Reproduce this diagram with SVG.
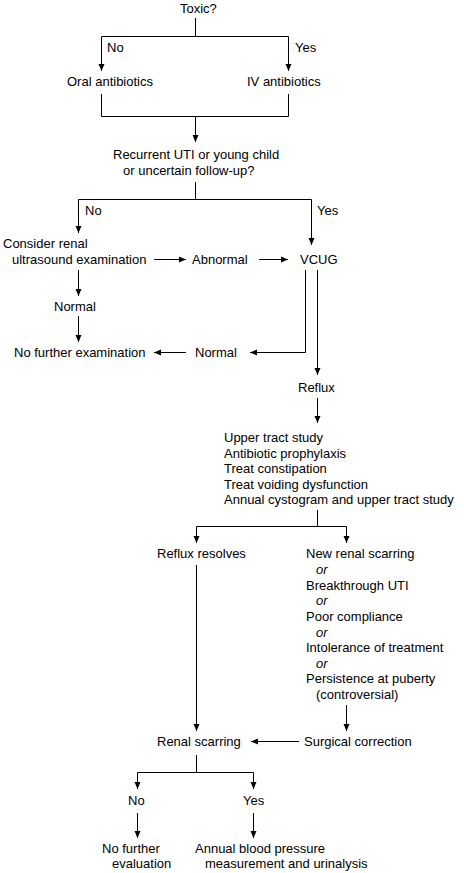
<svg xmlns="http://www.w3.org/2000/svg" width="464" height="873" viewBox="0 0 464 873">
<style>
text{font-family:"Liberation Sans",Arial,sans-serif;font-size:13px;fill:#000}
.it{font-style:italic}
.c line,.c polyline{stroke:#000;stroke-width:1;fill:none;marker-end:url(#ah)}
.c .n{marker-end:none}
</style>
<defs>
<marker id="ah" markerUnits="userSpaceOnUse" markerWidth="8" markerHeight="7" refX="7" refY="3.5" orient="auto">
<path d="M0,0.5 L7,3.5 L0,6.5 Z" fill="#000"/>
</marker>
</defs>
<rect width="464" height="873" fill="#fff"/>
<g class="c" id="connectors">
<line class="n" x1="195.5" y1="18" x2="195.5" y2="36.5"/>
<line class="n" x1="101.5" y1="36.5" x2="288.5" y2="36.5"/>
<line x1="101.5" y1="36.5" x2="101.5" y2="71"/>
<line x1="288.5" y1="36.5" x2="288.5" y2="71"/>
<line class="n" x1="101.5" y1="94" x2="101.5" y2="116.5"/>
<line class="n" x1="288.5" y1="94" x2="288.5" y2="116.5"/>
<line class="n" x1="101.5" y1="116.5" x2="288.5" y2="116.5"/>
<line x1="195.5" y1="116.5" x2="195.5" y2="142"/>
<line class="n" x1="195.5" y1="182" x2="195.5" y2="199.5"/>
<line class="n" x1="78.5" y1="199.5" x2="311.5" y2="199.5"/>
<line x1="78.5" y1="199.5" x2="78.5" y2="233"/>
<line x1="311.5" y1="199.5" x2="311.5" y2="245"/>
<line x1="154" y1="259.5" x2="186" y2="259.5"/>
<line x1="259" y1="259.5" x2="288" y2="259.5"/>
<line x1="78.5" y1="270" x2="78.5" y2="296"/>
<line x1="78.5" y1="316" x2="78.5" y2="342"/>
<line x1="186" y1="352.5" x2="154" y2="352.5"/>
<polyline points="305.5,270 305.5,352.5 250,352.5"/>
<line x1="317.5" y1="270" x2="317.5" y2="375"/>
<line x1="317.5" y1="398" x2="317.5" y2="423"/>
<line class="n" x1="317.5" y1="510" x2="317.5" y2="526.5"/>
<line class="n" x1="196.5" y1="526.5" x2="346.5" y2="526.5"/>
<line x1="196.5" y1="526.5" x2="196.5" y2="543"/>
<line x1="346.5" y1="526.5" x2="346.5" y2="543"/>
<line x1="196.5" y1="565" x2="196.5" y2="731"/>
<line x1="346.5" y1="705" x2="346.5" y2="731"/>
<line x1="299" y1="741.5" x2="251" y2="741.5"/>
<line class="n" x1="196.5" y1="755" x2="196.5" y2="772.5"/>
<line class="n" x1="137.5" y1="772.5" x2="253.5" y2="772.5"/>
<line x1="137.5" y1="772.5" x2="137.5" y2="789"/>
<line x1="253.5" y1="772.5" x2="253.5" y2="789"/>
<line x1="137.5" y1="813" x2="137.5" y2="838"/>
<line x1="253.5" y1="813" x2="253.5" y2="838"/>
</g>
<g id="toxic"><text x="180" y="13">Toxic?</text></g>
<g id="lbl-no1"><text x="107" y="52">No</text></g>
<g id="lbl-yes1"><text x="295" y="52">Yes</text></g>
<g id="oral"><text x="67" y="86">Oral antibiotics</text></g>
<g id="iv"><text x="247" y="86">IV antibiotics</text></g>
<g id="recurrent"><text x="113" y="159">Recurrent UTI or young child</text><text x="123" y="175">or uncertain follow-up?</text></g>
<g id="lbl-no2"><text x="85" y="215">No</text></g>
<g id="lbl-yes2"><text x="317" y="215">Yes</text></g>
<g id="ultrasound"><text x="3" y="248">Consider renal</text><text x="12" y="264">ultrasound examination</text></g>
<g id="abnormal"><text x="192" y="264">Abnormal</text></g>
<g id="vcug"><text x="300" y="264">VCUG</text></g>
<g id="normal1"><text x="54" y="311">Normal</text></g>
<g id="nofurther"><text x="14" y="357">No further examination</text></g>
<g id="normal2"><text x="195" y="357">Normal</text></g>
<g id="reflux"><text x="298" y="392">Reflux</text></g>
<g id="treatment"><text x="224" y="442">Upper tract study</text><text x="224" y="457.5">Antibiotic prophylaxis</text><text x="224" y="473">Treat constipation</text><text x="224" y="488.5">Treat voiding dysfunction</text><text x="224" y="504">Annual cystogram and upper tract study</text></g>
<g id="resolves"><text x="157" y="558">Reflux resolves</text></g>
<g id="indications"><text x="306" y="558">New renal scarring</text><text class="it" x="316" y="574">or</text><text x="306" y="590">Breakthrough UTI</text><text class="it" x="316" y="605">or</text><text x="306" y="621">Poor compliance</text><text class="it" x="316" y="637">or</text><text x="306" y="652">Intolerance of treatment</text><text class="it" x="316" y="668">or</text><text x="306" y="683">Persistence at puberty</text><text x="316" y="699">(controversial)</text></g>
<g id="scarring"><text x="157" y="746">Renal scarring</text></g>
<g id="surgical"><text x="304" y="746">Surgical correction</text></g>
<g id="lbl-no3"><text x="128" y="805">No</text></g>
<g id="lbl-yes3"><text x="243" y="805">Yes</text></g>
<g id="nofurthereval"><text x="102" y="853">No further</text><text x="112" y="868">evaluation</text></g>
<g id="annualbp"><text x="195" y="853">Annual blood pressure</text><text x="205" y="868">measurement and urinalysis</text></g>
</svg>
